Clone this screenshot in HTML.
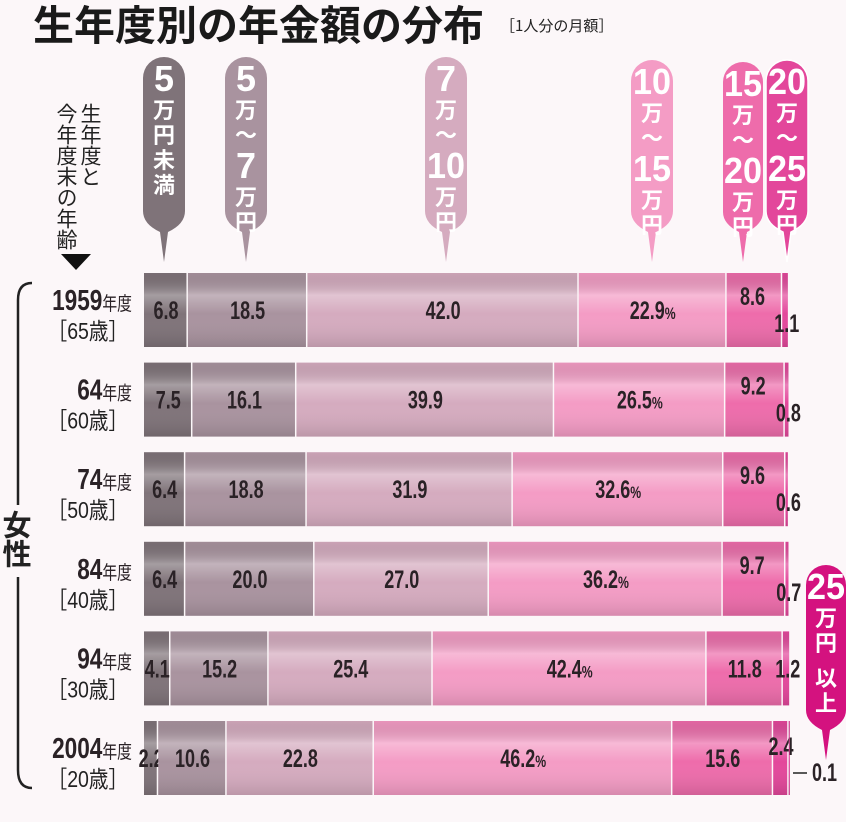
<!DOCTYPE html>
<html><head><meta charset="utf-8"><style>
body{margin:0;background:#fcf7f9;}
svg{display:block;font-family:"Liberation Sans","Noto Sans CJK JP",sans-serif;}
.v{font-family:"Liberation Sans","Noto Sans CJK JP",sans-serif;font-weight:bold;fill:#2a2226;}
</style></head><body>
<svg id="c" width="846" height="822" viewBox="0 0 846 822">
<defs>
<linearGradient id="sh" x1="0" y1="0" x2="0" y2="1">
<stop offset="0" stop-color="#000" stop-opacity="0.05"/><stop offset="0.3" stop-color="#fff" stop-opacity="0.3"/><stop offset="0.55" stop-color="#fff" stop-opacity="0"/><stop offset="1" stop-color="#000" stop-opacity="0.12"/>
</linearGradient>
</defs>
<rect width="846" height="822" fill="#fcf7f9"/>
<text x="33" y="40" font-size="41" font-weight="bold" fill="#1a1a1a" font-family="'Noto Sans CJK JP',sans-serif">生年度別の年金額の分布</text>
<text x="500" y="31" font-size="15" fill="#222" font-family="'Noto Sans CJK JP',sans-serif">［1人分の月額］</text>
<g id="axisnote" font-family="'Noto Sans CJK JP',sans-serif" font-size="21" fill="#222">
<text x="91" y="103" writing-mode="tb">生年度と</text>
<text x="67" y="103" writing-mode="tb">今年度末の年齢</text>
<polygon points="61,254 91,254 76,270" fill="#111"/>
</g>
<path d="M32 283 Q18 283 18 300 L18 770 Q18 788 32 788" fill="none" stroke="#222" stroke-width="2.5"/>
<rect x="0" y="505" width="34" height="72" fill="#fcf7f9"/>
<text x="17" y="510" writing-mode="tb" font-size="29" font-weight="bold" fill="#222" font-family="'Noto Sans CJK JP',sans-serif">女性</text>
<g id="bars"></g>
<g id="callouts"></g>
</svg>
<script>
const categories=["5万円未満","5万〜7万円","7万〜10万円","10万〜15万円","15万〜20万円","20万〜25万円","25万円以上"];
const rowYears=["1959","64","74","84","94","2004"];
const rowAges=["65","60","50","40","30","20"];
const s1=[6.8,7.5,6.4,6.4,4.1,2.2];
const s2=[18.5,16.1,18.8,20.0,15.2,10.6];
const s3=[42.0,39.9,31.9,27.0,25.4,22.8];
const s4=[22.9,26.5,32.6,36.2,42.4,46.2];
const s5=[8.6,9.2,9.6,9.7,11.8,15.6];
const s6=[1.1,0.8,0.6,0.7,1.2,2.4];
const s7=[0,0,0,0,0,0.1];
const series=[s1,s2,s3,s4,s5,s6,s7];
const colors=["#7f7379","#a9939f","#d5abbf","#f49cc5","#ee6cab","#e3479b","#d4127f"];
const NS="http://www.w3.org/2000/svg";
const X0=144,PX=6.46,Y0=273,STEP=89.6,BH=74;
const xs=v=>X0+v*PX;
const ys=i=>Y0+i*STEP;
function el(t,a,p){const e=document.createElementNS(NS,t);for(const k in a)e.setAttribute(k,a[k]);p.appendChild(e);return e;}
const g=document.getElementById('bars');
rowYears.forEach((yr,i)=>{
  const y=ys(i);let cum=0;
  const lab=el('text',{x:0,y:0,transform:`translate(132,${y+37}) scale(0.78,1)`,'text-anchor':'end','class':'v','font-size':29},g);
  
  
  lab.textContent=yr;
  const t2=el('tspan',{'font-size':19,'font-weight':'normal','font-family':"'Noto Sans CJK JP',sans-serif"},lab);t2.textContent='年度';
  const ag=el('text',{x:0,y:0,transform:`translate(128,${y+66}) scale(0.85,1)`,'text-anchor':'end','font-size':23,fill:'#222','font-family':"'Liberation Sans','Noto Sans CJK JP',sans-serif"},g);
  
  
  ag.textContent='［'+rowAges[i]+'歳］';
  series.forEach((s,k)=>{
    const v=s[i];if(v<=0)return;
    const x=xs(cum),w=v*PX;cum+=v;
    const r=el('rect',{x:x,y:y,width:Math.max(w-1.5,1),height:BH,fill:colors[k]},g);
    
    
    el('rect',{x:x,y:y,width:Math.max(w-1.5,1),height:BH,fill:'url(#sh)'},g);
    let tx=x+w/2,ty=y+BH/2+9,anchor='middle';
    if(k===4&&i<4){ty=y+32;tx=x+w/2-2;}
    if(k===5){tx=x+w/2+1;ty=i<4?y+BH/2+22:y+BH/2+9;if(i===5){tx=x+w/2;ty=y+34;}}
    if(k===6){tx=812;ty=y+BH-14;anchor='start';
      const ln=el('line',{x1:793,y1:ty-8,x2:807,y2:ty-8,stroke:'#222','stroke-width':1.5},g);
      
      }
    const t=el('text',{x:0,y:0,transform:`translate(${tx},${ty}) scale(0.72,1)`,'text-anchor':anchor,'class':'v','font-size':25},g);
    
    
    t.textContent=v.toFixed(1);
    if(k===3){const p=el('tspan',{'font-size':17},t);p.textContent='%';}
  });
});
const cg=document.getElementById('callouts');
const cal=[
 {cx:164,top:57,w:42,bot:232,tip:262,parts:[["5",1],["万円未満",0]]},
 {cx:246,top:57,w:42,bot:232,tip:262,parts:[["5",1],["万〜",0],["7",1],["万円",0]]},
 {cx:446,top:57,w:42,bot:232,tip:262,parts:[["7",1],["万〜",0],["10",1],["万円",0]]},
 {cx:652,top:60,w:42,bot:232,tip:262,parts:[["10",1],["万〜",0],["15",1],["万円",0]]},
 {cx:743,top:62,w:40,bot:232,tip:262,parts:[["15",1],["万〜",0],["20",1],["万円",0]]},
 {cx:787,top:60,w:42,bot:232,tip:262,parts:[["20",1],["万〜",0],["25",1],["万円",0]]},
 {cx:826,top:565,w:40,bot:730,tip:760,parts:[["25",1],["万円",0],["以上",0]]}
];
cal.forEach((c,k)=>{
  const h=c.w/2;
  const d=`M${c.cx-h} ${c.top+h} A${h} ${h} 0 0 1 ${c.cx+h} ${c.top+h} L${c.cx+h} ${c.bot-h} Q${c.cx+h} ${c.bot-8} ${c.cx+4} ${c.bot} L${c.cx} ${c.tip} L${c.cx-4} ${c.bot} Q${c.cx-h} ${c.bot-8} ${c.cx-h} ${c.bot-h} Z`;
  const p=el('path',{d:d,fill:colors[k],stroke:k===5?'#fff':'none','stroke-width':1.5},cg);
  
  
  let y=c.top+34;
  const t=el('text',{x:c.cx,'text-anchor':'middle',fill:'#fff','font-weight':'bold'},cg);
  
  
  c.parts.forEach(([s,isNum])=>{
    if(isNum){const ts=el('tspan',{x:c.cx,y:y,'font-size':36,textLength:s.length>1?38:20,lengthAdjust:'spacingAndGlyphs','font-family':"'Liberation Sans',sans-serif"},t);ts.textContent=s;y+=27;}
    else{for(const ch of s){const ts=el('tspan',{x:c.cx,y:y,'font-size':22,'font-family':"'Noto Sans CJK JP',sans-serif"},t);ts.textContent=ch;y+=25;}y+=10;}
  });
});
</script>
</body></html>
